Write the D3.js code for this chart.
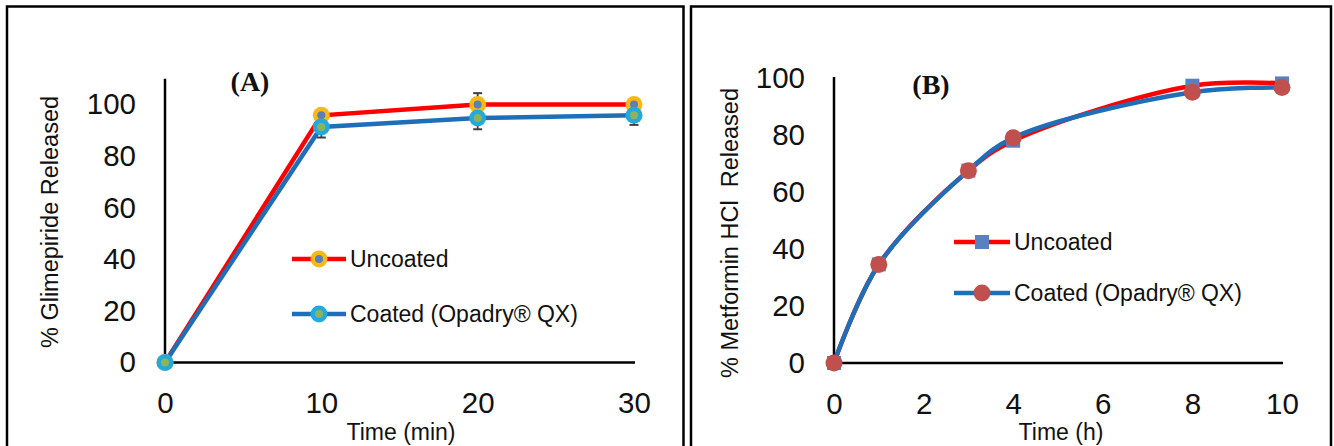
<!DOCTYPE html>
<html lang="en">
<head>
    <meta charset="UTF-8">
    <script src="https://d3js.org/d3.v7.min.js"></script>
    <title>Release profiles</title>
    <style>
        body { margin: 0; background: #fff; }
        text { font-family: "Liberation Sans", Arial, sans-serif; fill: #111; }
    </style>
</head>
<body>
    <div id="canvas"></div>
</body>
    <script>
        // panel A - glimepiride
        const timesA = [0, 10, 20, 30]
        const uncoatedA = [0, 95.8, 100, 100]
        const coatedA = [0, 91.3, 94.8, 95.8]
        const uncoatedAErr = [0, 1.5, 4.4, 1.5]
        const coatedAErr = [0, 4.1, 4.4, 3.7]
        const ticksXA = [0, 10, 20, 30]
        const ticksYA = [0, 20, 40, 60, 80, 100]

        // panel B - metformin
        const timesB = [0, 1, 3, 4, 8, 10]
        const uncoatedB = [0, 34.6, 67.5, 78, 97.3, 98.1]
        const coatedB = [0, 34.6, 67.5, 79, 95, 96.7]
        const ticksXB = [0, 2, 4, 6, 8, 10]
        const ticksYB = [0, 20, 40, 60, 80, 100]

        const seriesNames = ["Uncoated", "Coated (Opadry\u00AE QX)"]

        const svg = d3.select("#canvas").append("svg").attr("width", 1334).attr("height", 446)

        // panel frames (bottom edge is cut off in the original)
        svg.append("path").attr("d", "M7,446 V6.5 H683.5 V446")
           .attr("fill", "none").attr("stroke", "#000").attr("stroke-width", 2.5)
        svg.append("path").attr("d", "M691,446 V6.5 H1331 V446")
           .attr("fill", "none").attr("stroke", "#000").attr("stroke-width", 2.5)

        function axes(g, x, y, ticksX, ticksY, xEnd, yTop) {
            const xAxis = d3.axisBottom(x).tickValues(ticksX).tickSize(0).tickPadding(30).tickFormat(d3.format("d"))
            const yAxis = d3.axisLeft(y).tickValues(ticksY).tickSize(0).tickPadding(29).tickFormat(d3.format("d"))
            const gx = g.append("g").attr("transform", `translate(0,${y(0)})`).call(xAxis)
            const gy = g.append("g").attr("transform", `translate(${x(0)},0)`).call(yAxis)
            gx.select(".domain").remove()
            gy.select(".domain").remove()
            g.selectAll(".tick text").style("font-size", "29.5px").attr("fill", "#111")
            g.append("line").attr("x1", x(0)).attr("x2", xEnd).attr("y1", y(0)).attr("y2", y(0))
             .attr("stroke", "#000").attr("stroke-width", 2.5)
            g.append("line").attr("x1", x(0)).attr("x2", x(0)).attr("y1", y(0)).attr("y2", yTop)
             .attr("stroke", "#000").attr("stroke-width", 2.5)
        }

        // ---------- panel A ----------
        const gA = svg.append("g")
        const xA = d3.scaleLinear().domain([0, 30]).range([165, 634])
        const yA = d3.scaleLinear().domain([0, 110]).range([362.5, 78.7])
        axes(gA, xA, yA, ticksXA, ticksYA, 635, yA(110))

        const lineA = d3.line().x(d => xA(d[0])).y(d => yA(d[1]))
        gA.append("path").datum(d3.zip(timesA, uncoatedA)).attr("d", lineA)
          .attr("fill", "none").attr("stroke", "#ff0000").attr("stroke-width", 4.5)
        gA.append("path").datum(d3.zip(timesA, coatedA)).attr("d", lineA)
          .attr("fill", "none").attr("stroke", "#1f6fb8").attr("stroke-width", 4.5)

        function errBars(g, xs, ys, es, x, y) {
            xs.forEach((t, i) => {
                if (!es[i]) return
                const cx = x(t), y1 = y(ys[i] - es[i]), y2 = y(ys[i] + es[i])
                g.append("line").attr("x1", cx).attr("x2", cx).attr("y1", y1).attr("y2", y2)
                 .attr("stroke", "#404040").attr("stroke-width", 1.8)
                ;[y1, y2].forEach(yy => g.append("line").attr("x1", cx - 4.5).attr("x2", cx + 4.5)
                    .attr("y1", yy).attr("y2", yy).attr("stroke", "#404040").attr("stroke-width", 2))
            })
        }
        errBars(gA, timesA, uncoatedA, uncoatedAErr, xA, yA)
        errBars(gA, timesA, coatedA, coatedAErr, xA, yA)

        function ringDots(g, pts, outer, inner) {
            g.selectAll(null).data(pts).enter().append("circle")
             .attr("cx", d => d[0]).attr("cy", d => d[1]).attr("r", 8.5).attr("fill", outer)
            g.selectAll(null).data(pts).enter().append("circle")
             .attr("cx", d => d[0]).attr("cy", d => d[1]).attr("r", 4).attr("fill", inner)
        }
        ringDots(gA, timesA.map((t, i) => [xA(t), yA(uncoatedA[i])]), "#f7b916", "#5b7fb8")
        ringDots(gA, timesA.map((t, i) => [xA(t), yA(coatedA[i])]), "#22aadf", "#8db45a")

        // legend A
        const legA = [[259, "#ff0000", "#f7b916", "#5b7fb8"], [314, "#1f6fb8", "#22aadf", "#8db45a"]]
        legA.forEach((l, i) => {
            gA.append("line").attr("x1", 292).attr("x2", 346).attr("y1", l[0]).attr("y2", l[0])
              .attr("stroke", l[1]).attr("stroke-width", 4.5)
            ringDots(gA, [[319, l[0]]], l[2], l[3])
            gA.append("text").attr("x", 350).attr("y", l[0]).attr("dy", "0.35em")
              .style("font-size", "23px").text(seriesNames[i])
        })

        gA.append("text").attr("x", 250).attr("y", 91).attr("text-anchor", "middle")
          .style("font-family", "'Liberation Serif', 'Times New Roman', serif")
          .style("font-weight", "bold").style("font-size", "28px").text("(A)")
        gA.append("text").attr("transform", "translate(58,222) rotate(-90)")
          .attr("text-anchor", "middle").style("font-size", "23.5px").text("% Glimepiride Released")
        gA.append("text").attr("x", 401).attr("y", 440).attr("text-anchor", "middle")
          .style("font-size", "23px").text("Time (min)")

        // ---------- panel B ----------
        const gB = svg.append("g")
        const xB = d3.scaleLinear().domain([0, 10]).range([834, 1282])
        const yB = d3.scaleLinear().domain([0, 100]).range([363, 78])
        axes(gB, xB, yB, ticksXB, ticksYB, 1283, yB(100) - 1)

        const lineB = d3.line().x(d => xB(d[0])).y(d => yB(d[1])).curve(d3.curveCatmullRom.alpha(0.5))
        gB.append("path").datum(d3.zip(timesB, uncoatedB)).attr("d", lineB)
          .attr("fill", "none").attr("stroke", "#ff0000").attr("stroke-width", 4.5)
        gB.append("path").datum(d3.zip(timesB, coatedB)).attr("d", lineB)
          .attr("fill", "none").attr("stroke", "#1f6fb8").attr("stroke-width", 4.5)

        const sq = 14
        gB.selectAll(null).data(d3.zip(timesB, uncoatedB)).enter().append("rect")
          .attr("x", d => xB(d[0]) - sq / 2).attr("y", d => yB(d[1]) - sq / 2)
          .attr("width", sq).attr("height", sq).attr("fill", "#5b80c0")
        gB.selectAll(null).data(d3.zip(timesB, coatedB)).enter().append("circle")
          .attr("cx", d => xB(d[0])).attr("cy", d => yB(d[1])).attr("r", 8.5).attr("fill", "#c0504d")

        // legend B
        ;[242, 293].forEach((ly, i) => {
            gB.append("line").attr("x1", 954).attr("x2", 1010).attr("y1", ly).attr("y2", ly)
              .attr("stroke", i ? "#1f6fb8" : "#ff0000").attr("stroke-width", 4.5)
            if (i) gB.append("circle").attr("cx", 982).attr("cy", ly).attr("r", 8.5).attr("fill", "#c0504d")
            else gB.append("rect").attr("x", 982 - sq / 2).attr("y", ly - sq / 2)
                   .attr("width", sq).attr("height", sq).attr("fill", "#5b80c0")
            gB.append("text").attr("x", 1014).attr("y", ly).attr("dy", "0.35em")
              .style("font-size", "23px").text(seriesNames[i])
        })

        gB.append("text").attr("x", 931).attr("y", 94).attr("text-anchor", "middle")
          .style("font-family", "'Liberation Serif', 'Times New Roman', serif")
          .style("font-weight", "bold").style("font-size", "28px").text("(B)")
        gB.append("text").attr("transform", "translate(738,233) rotate(-90)")
          .attr("text-anchor", "middle").style("font-size", "23.5px").style("white-space", "pre")
          .text("% Metformin HCl  Released")
        gB.append("text").attr("x", 1061).attr("y", 440).attr("text-anchor", "middle")
          .style("font-size", "23px").text("Time (h)")
    </script>
</html>
